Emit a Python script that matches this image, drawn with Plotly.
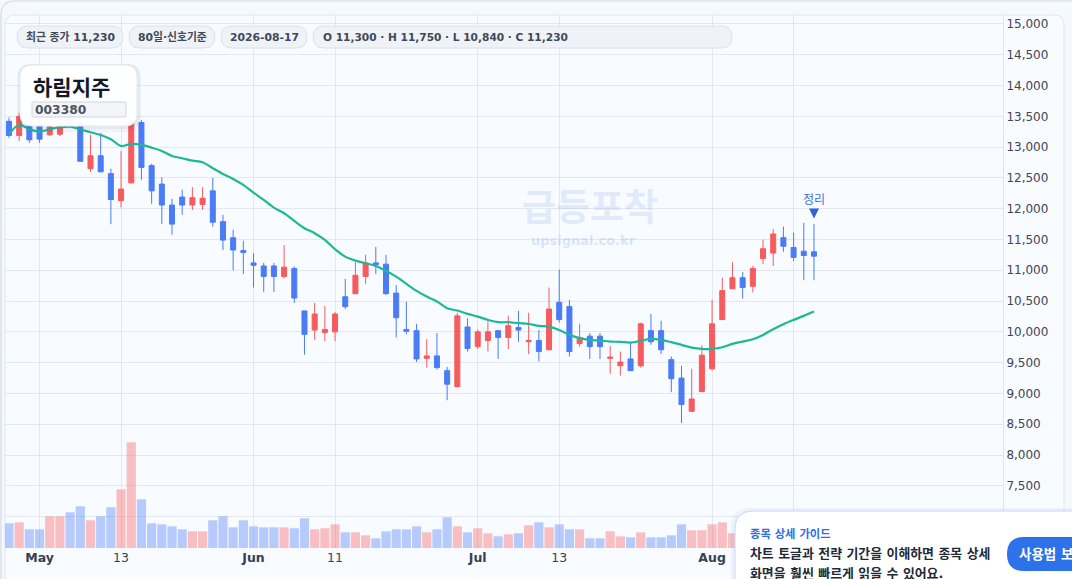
import pandas as pd
import plotly.graph_objects as go

# 80 trading days ending 2026-08-17
dates = pd.bdate_range("2026-04-28", "2026-08-17").strftime("%Y-%m-%d").tolist()

opens = [13420, 13190, 13360, 13360, 13200, 13210, 13470, 13420, 12650, 12860,
         12570, 12130, 12420, 13400, 12700, 12400, 12060, 12190, 12060, 12070,
         12290, 11790, 11530, 11320, 11120, 11070, 11070, 10900, 11030, 10340,
         10030, 9990, 10000, 10570, 10620, 10900, 11120, 11100, 10630, 10040,
         10020, 9570, 9610, 9370, 9110, 10080, 9760, 9860, 10020, 9910,
         10070, 9840, 9860, 9710, 10480, 10410, 9810, 9930, 9930, 9570,
         9450, 9560, 9450, 10020, 10020, 9550, 9250, 8710, 9030, 9400,
         10200, 10700, 10880, 10740, 11190, 11280, 11530, 11370, 11310, 11300]
highs = [13480, 13560, 13450, 13420, 13380, 13380, 13540, 13480, 13200, 13230,
         12650, 12940, 13440, 13440, 12730, 12510, 12160, 12310, 12350, 12350,
         12500, 11900, 11660, 11480, 11280, 11120, 11120, 11410, 11060, 10340,
         10470, 10420, 10320, 10860, 11130, 11250, 11380, 11250, 10760, 10490,
         10130, 9880, 9980, 9430, 10310, 10220, 10040, 10170, 10030, 10260,
         10340, 10310, 10030, 10720, 11010, 10520, 10130, 9980, 9980, 9770,
         9680, 9820, 10150, 10290, 10180, 9600, 9450, 9400, 9780, 10520,
         10880, 11130, 10970, 11070, 11500, 11670, 11710, 11610, 11770, 11750]
lows = [13150, 13100, 13070, 13070, 13180, 13180, 13380, 12760, 12600, 12590,
        11750, 12020, 12410, 12470, 12080, 11750, 11580, 11900, 11980, 11980,
        11710, 11330, 11000, 10940, 10720, 10650, 10650, 10870, 10470, 9630,
        9870, 9850, 9850, 10370, 10620, 10780, 10940, 10600, 9910, 9960,
        9510, 9420, 9390, 8890, 9100, 9680, 9720, 9680, 9560, 9720,
        9840, 9640, 9520, 9700, 10150, 9600, 9760, 9560, 9560, 9320,
        9290, 9370, 9420, 9790, 9640, 9020, 8520, 8700, 9030, 9370,
        10200, 10700, 10540, 10640, 11100, 11070, 11300, 11150, 10840, 10840]
closes = [13190, 13500, 13120, 13130, 13330, 13340, 13400, 12770, 12860, 12600,
          12150, 12320, 13400, 12670, 12290, 12060, 11750, 12060, 12180, 12170,
          11780, 11490, 11330, 11290, 11080, 10900, 10900, 11050, 10550, 9960,
          10290, 10040, 10290, 10410, 10920, 11120, 11090, 10620, 10230, 10010,
          9560, 9610, 9420, 9150, 10260, 9730, 10000, 10000, 9910, 10100,
          10030, 9860, 9680, 10370, 10200, 9680, 9910, 9760, 9760, 9590,
          9510, 9370, 10130, 9840, 9710, 9240, 8820, 8910, 9620, 10130,
          10670, 10880, 10720, 11030, 11350, 11590, 11390, 11210, 11240, 11230]
ma20 = [13209, 13360, 13291, 13252, 13291, 13323, 13333, 13291, 13242, 13198,
        13128, 13019, 13052, 13036, 12992, 12938, 12857, 12820, 12781, 12755,
        12657, 12565, 12484, 12386, 12261, 12143, 12018, 11927, 11802, 11683,
        11602, 11493, 11342, 11222, 11157, 11115, 11071, 10990, 10898, 10779,
        10666, 10573, 10492, 10385, 10346, 10292, 10248, 10195, 10157, 10157,
        10141, 10130, 10097, 10086, 10032, 9951, 9898, 9870, 9859, 9842,
        9838, 9826, 9854, 9886, 9870, 9833, 9789, 9745, 9724, 9724,
        9751, 9805, 9842, 9881, 9951, 10044, 10125, 10195, 10260, 10330]
volume = [247000, 257000, 187000, 187000, 317000, 317000, 357000, 417000, 277000, 317000,
          407000, 587000, 1057000, 487000, 247000, 237000, 217000, 187000, 167000, 167000,
          277000, 317000, 207000, 277000, 217000, 207000, 207000, 207000, 197000, 297000,
          187000, 197000, 237000, 157000, 157000, 127000, 97000, 167000, 187000, 187000,
          217000, 157000, 187000, 307000, 217000, 157000, 197000, 147000, 117000, 137000,
          147000, 227000, 257000, 207000, 237000, 187000, 187000, 97000, 97000, 167000,
          117000, 107000, 157000, 107000, 107000, 127000, 237000, 177000, 177000, 237000,
          257000, 147000, 160000, 180000, 200000, 220000, 180000, 150000, 140000, 170000]

tick_vals = [dates[i] for i in (3, 11, 24, 32, 46, 54, 69, 77)]
tick_text = ["<b>May</b>", "13", "<b>Jun</b>", "11", "<b>Jul</b>", "13", "<b>Aug</b>", "12"]

signal_label = "정리"
signal_arrow_price = 11840
signal_text_price = 12120

UP, DOWN = "#f65b5d", "#4a7cf6"
FONT = "DejaVu Sans, Noto Sans CJK KR, sans-serif"

# plot area in pixels
L, R, T, B = 5, 1003, 15, 548


def fx(px):
    return (px - L) / (R - L)


def fy(py):
    return (B - py) / (B - T)


def rrect(x0, y0, x1, y1, r):
    return (f"M {fx(x0 + r)},{fy(y0)} L {fx(x1 - r)},{fy(y0)} "
            f"Q {fx(x1)},{fy(y0)} {fx(x1)},{fy(y0 + r)} L {fx(x1)},{fy(y1 - r)} "
            f"Q {fx(x1)},{fy(y1)} {fx(x1 - r)},{fy(y1)} L {fx(x0 + r)},{fy(y1)} "
            f"Q {fx(x0)},{fy(y1)} {fx(x0)},{fy(y1 - r)} L {fx(x0)},{fy(y0 + r)} "
            f"Q {fx(x0)},{fy(y0)} {fx(x0 + r)},{fy(y0)} Z")


def box(x0, y0, x1, y1, r, fill, line="rgba(0,0,0,0)", width=1, layer="above"):
    return dict(type="path", xref="paper", yref="paper", path=rrect(x0, y0, x1, y1, r),
                fillcolor=fill, line=dict(color=line, width=width), layer=layer)


def label(text, px, py, size, color, xanchor="left", family=FONT):
    return dict(text=text, x=fx(px), y=fy(py), xref="paper", yref="paper",
                xanchor=xanchor, yanchor="middle", showarrow=False,
                font=dict(size=size, color=color, family=family))


vol_colors = ["rgba(246,91,93,0.38)" if c >= o else "rgba(74,124,246,0.38)"
              for o, c in zip(opens, closes)]

fig = go.Figure()
fig.add_trace(go.Bar(x=dates, y=volume, marker_color=vol_colors, marker_line_width=0,
                     yaxis="y2", hoverinfo="skip"))
fig.add_trace(go.Candlestick(x=dates, open=opens, high=highs, low=lows, close=closes,
                             increasing=dict(line=dict(color=UP, width=1), fillcolor=UP),
                             decreasing=dict(line=dict(color=DOWN, width=1), fillcolor=DOWN)))
fig.add_trace(go.Scatter(x=dates, y=ma20, mode="lines",
                         line=dict(color="#1db898", width=2.2, shape="spline")))
fig.add_trace(go.Scatter(x=[dates[-1]], y=[signal_arrow_price], mode="markers",
                         marker=dict(symbol="arrow-down", size=10, color="#2f63d8")))
fig.add_trace(go.Scatter(x=[dates[-1]], y=[signal_text_price], mode="text",
                         text=[signal_label], textposition="middle center",
                         textfont=dict(size=12, color="#3a6fe0", family=FONT)))

shapes = [
    box(1, 1, 1110, 640, 14, "rgba(0,0,0,0)", "#d4dce8", 1.2, "below"),
    box(5, 15, 1064, 640, 10, "#f8fbff", "#e1e7ef", 1, "below"),
    # header chips
    box(17, 26, 123, 48, 11, "#eff2f7", "#dce2ea"),
    box(129, 26, 215, 48, 11, "#eff2f7", "#dce2ea"),
    box(221, 26, 307, 48, 11, "#eff2f7", "#dce2ea"),
    box(313, 26, 732, 48, 11, "#eff2f7", "#dce2ea"),
    # title card with soft shadow
    box(17, 64, 141, 132, 14, "rgba(30,50,90,0.04)"),
    box(18, 64, 140, 129, 13, "rgba(30,50,90,0.05)"),
    box(20, 65, 137, 126, 12, "rgba(255,255,255,0.96)", "#e6eaf0"),
    box(32, 102, 126, 117, 1, "#f3f5f8", "#cfd5de"),
    # guide popup
    box(731, 508, 1120, 640, 20, "rgba(40,80,160,0.05)"),
    box(735, 511, 1120, 640, 18, "#ffffff", "#c8d7f4"),
    box(1007, 537, 1130, 571, 17, "#2d72ea"),
]

annotations = [
    label("<b>최근 종가 11,230</b>", 70, 37.5, 10.8, "#3f4958", "center"),
    label("<b>80일·신호기준</b>", 172, 37.5, 10.8, "#3f4958", "center"),
    label("<b>2026-08-17</b>", 264, 37.5, 10.8, "#3f4958", "center"),
    label("<b>O 11,300 · H 11,750 · L 10,840 · C 11,230</b>", 321, 37.5, 10.6, "#3f4958"),
    label("<b>하림지주</b>", 31, 86, 21, "#111827", family="Noto Sans CJK KR, sans-serif"),
    label("<b>003380</b>", 33, 109.5, 12.3, "#4b5563"),
    label("<b>급등포착</b>", 590, 208, 37, "rgba(100,145,235,0.17)", "center"),
    label("<b>upsignal.co.kr</b>", 583, 240, 13, "rgba(100,145,235,0.22)", "center"),
    label("<b>종목 상세 가이드</b>", 748, 534, 11.3, "#2f6fe4"),
    label("<b>차트 토글과 전략 기간을 이해하면 종목 상세</b>", 748, 553, 12.9, "#1f2937"),
    label("<b>화면을 훨씬 빠르게 읽을 수 있어요.</b>", 748, 573, 12.9, "#1f2937"),
    label("<b>사용법 보기</b>", 1017, 554, 13.5, "#ffffff"),
]

fig.update_layout(
    width=1072, height=579,
    margin=dict(l=L, r=1072 - R, t=T, b=579 - B),
    paper_bgcolor="#f5f8fd", plot_bgcolor="rgba(0,0,0,0)",
    showlegend=False, bargap=0.1, hovermode=False,
    font=dict(family=FONT, size=12, color="#3d4654"),
    xaxis=dict(type="category", range=[-0.39, 97.55], rangeslider=dict(visible=False),
               tickmode="array", tickvals=tick_vals, ticktext=tick_text,
               showgrid=True, gridcolor="#e3e8ef", gridwidth=1, ticks="",
               tickfont=dict(size=12.5, color="#374151"), showline=False, zeroline=False),
    yaxis=dict(side="right", range=[6490, 15146], tickmode="array",
               tickvals=list(range(7000, 15001, 500)), tickformat=",",
               showgrid=True, gridcolor="#e3e8ef", gridwidth=1, zeroline=False,
               showline=True, linecolor="#e1e6ee", ticks="",
               tickfont=dict(size=12, color="#3d4654")),
    yaxis2=dict(overlaying="y", range=[0, 5330000], visible=False),
    shapes=shapes, annotations=annotations,
)

# page body has a default margin; drop it so the figure sits at the window corner
fig.write_html("out.html", config={"displayModeBar": False},
               post_script="document.body.style.margin='0';")
